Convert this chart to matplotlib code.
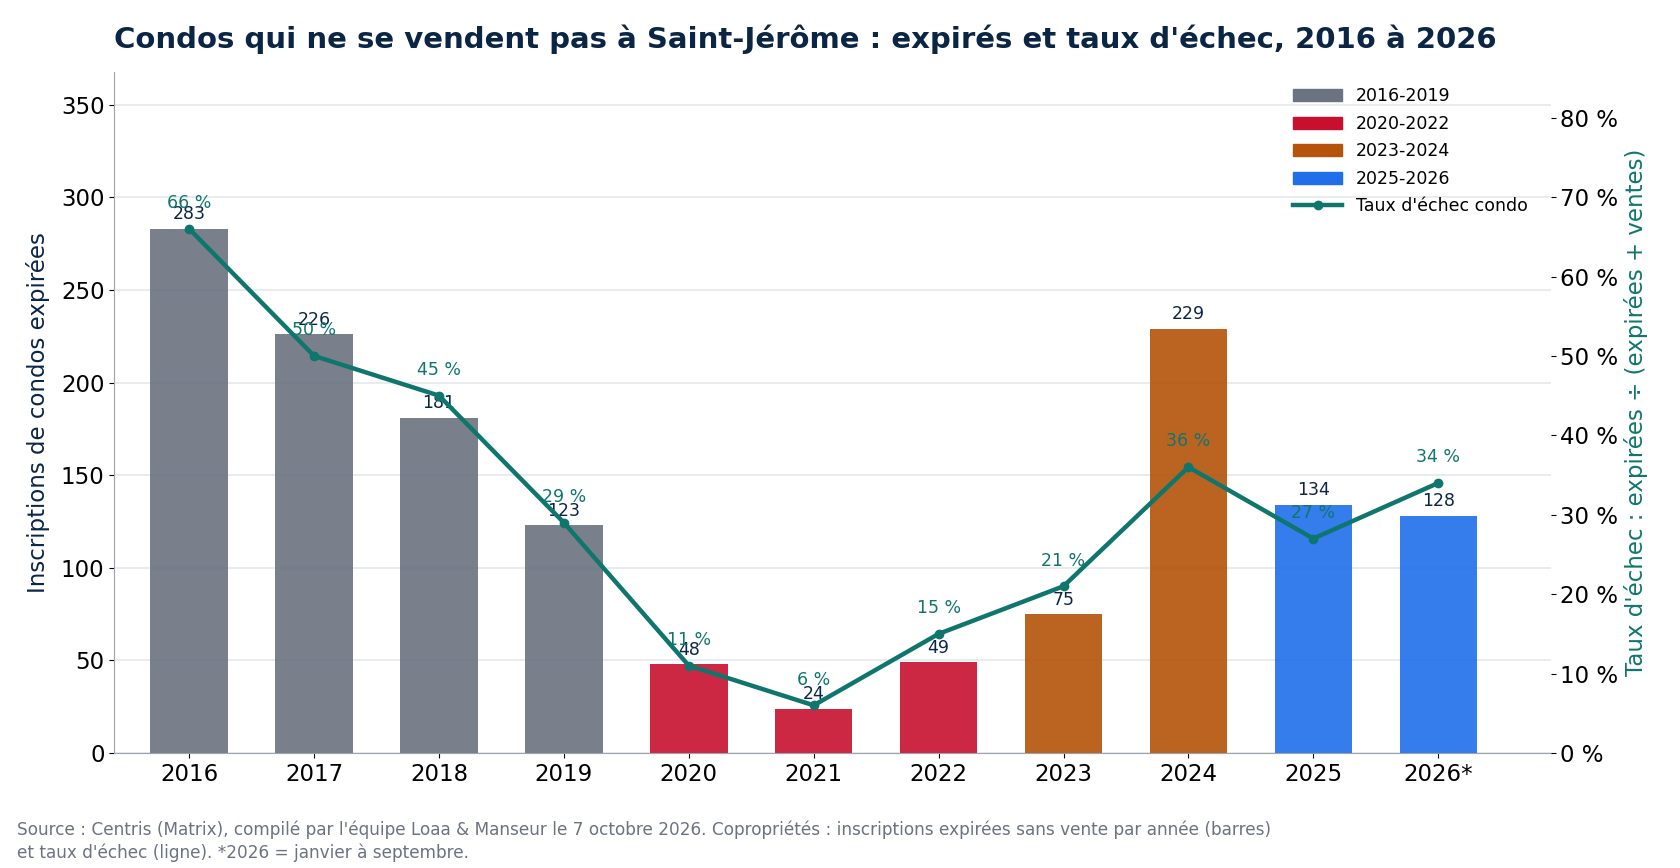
import matplotlib
matplotlib.use("Agg")
import matplotlib.pyplot as plt
from matplotlib.patches import Patch
from matplotlib.lines import Line2D

# donnees
annees = ["2016", "2017", "2018", "2019", "2020", "2021", "2022", "2023", "2024", "2025", "2026*"]
expires = [283, 226, 181, 123, 48, 24, 49, 75, 229, 134, 128]
taux = [66, 50, 45, 29, 11, 6, 15, 21, 36, 27, 34]
periodes = ["2016-2019"] * 4 + ["2020-2022"] * 3 + ["2023-2024"] * 2 + ["2025-2026"] * 2

couleurs = {"2016-2019": "#6b7280", "2020-2022": "#c8102e",
            "2023-2024": "#b45309", "2025-2026": "#1f6feb"}
navy = "#0b2545"
teal = "#0f766e"

fig = plt.figure(figsize=(16.8, 8.68), dpi=100)
ax = fig.add_axes([0.068, 0.1325, 0.855, 0.785])
ax2 = ax.twinx()

x = list(range(len(annees)))
ax.bar(x, expires, width=0.62, color=[couleurs[p] for p in periodes], alpha=0.9, zorder=2)
for xi, v in zip(x, expires):
    ax.annotate(str(v), (xi, v), xytext=(0, 4), textcoords="offset points",
                ha="center", va="bottom", fontsize=12.5, color=navy, zorder=3)

ax2.plot(x, taux, color=teal, lw=3.2, marker="o", ms=6, zorder=4)
for xi, t in zip(x, taux):
    ax2.annotate(f"{t} %", (xi, t), xytext=(0, 12), textcoords="offset points",
                 ha="center", va="bottom", fontsize=12.5, color=teal)

ax.set_ylim(0, max(expires) * 1.3)
ax2.set_ylim(0, max(taux) * 1.3)
ax.set_xlim(-0.6, len(annees) - 0.1)
ax.set_xticks(x)
ax.set_xticklabels(annees, fontsize=16.5)
ax.tick_params(axis="y", labelsize=16.5)
ax2.set_yticks(range(0, 81, 10))
ax2.set_yticklabels([f"{v} %" for v in range(0, 81, 10)], fontsize=16.5)

ax.yaxis.grid(True, color="#e5e7eb", lw=1.2, zorder=0)
ax.set_axisbelow(True)
for s in ["top", "right"]:
    ax.spines[s].set_visible(False)
for s in ["top", "right", "left", "bottom"]:
    ax2.spines[s].set_visible(False)
ax.spines["left"].set_color("#9ca3af")
ax.spines["bottom"].set_color("#9ca3af")

ax.set_ylabel("Inscriptions de condos expirées", fontsize=16.5, color=navy, labelpad=8)
ax2.set_ylabel("Taux d'échec : expirées ÷ (expirées + ventes)", fontsize=16.5, color=teal, labelpad=4)

fig.suptitle("Condos qui ne se vendent pas à Saint-Jérôme : expirés et taux d'échec, 2016 à 2026",
             x=0.068, y=0.972, ha="left", fontsize=21, fontweight="bold", color=navy)

handles = [Patch(color=couleurs[k], label=k) for k in couleurs]
handles.append(Line2D([0], [0], color=teal, lw=3.2, marker="o", ms=6, label="Taux d'échec condo"))
ax2.legend(handles=handles, loc="upper right", frameon=False, fontsize=12.5,
           bbox_to_anchor=(0.995, 1.0), labelspacing=0.55, handlelength=2.8)

fig.text(0.01, 0.031, "Source : Centris (Matrix), compilé par l'équipe Loaa & Manseur le 7 octobre 2026. "
         "Copropriétés : inscriptions expirées sans vente par année (barres)\n"
         "et taux d'échec (ligne). *2026 = janvier à septembre.",
         fontsize=12.2, color="#6b7280", va="center", ha="left", linespacing=1.3)

fig.savefig("out.png", dpi=100)
